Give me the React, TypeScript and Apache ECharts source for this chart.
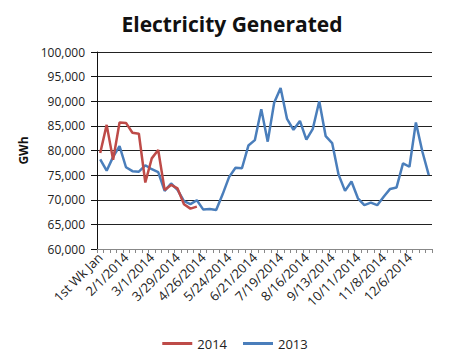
import React, { useEffect, useRef } from "react";
import * as echarts from "echarts";

const weeks: string[] = [
  "1st Wk Jan", "1/11/2014", "1/18/2014", "1/25/2014", "2/1/2014", "2/8/2014", "2/15/2014", "2/22/2014",
  "3/1/2014", "3/8/2014", "3/15/2014", "3/22/2014", "3/29/2014", "4/5/2014", "4/12/2014", "4/19/2014",
  "4/26/2014", "5/3/2014", "5/10/2014", "5/17/2014", "5/24/2014", "5/31/2014", "6/7/2014", "6/14/2014",
  "6/21/2014", "6/28/2014", "7/5/2014", "7/12/2014", "7/19/2014", "7/26/2014", "8/2/2014", "8/9/2014",
  "8/16/2014", "8/23/2014", "8/30/2014", "9/6/2014", "9/13/2014", "9/20/2014", "9/27/2014", "10/4/2014",
  "10/11/2014", "10/18/2014", "10/25/2014", "11/1/2014", "11/8/2014", "11/15/2014", "11/22/2014", "11/29/2014",
  "12/6/2014", "12/13/2014", "12/20/2014", "12/27/2014",
];

const gen2014: number[] = [
  79500, 85200, 78100, 85700, 85600, 83600, 83400, 73500, 78400, 80100, 72000, 73000, 72300, 69100, 68200, 68600,
];

const gen2013: number[] = [
  78200, 75900, 78700, 80900, 76600, 75800, 75700, 77000, 76200, 75600, 71800, 73300, 72000, 69700, 69100, 69900,
  68000, 68100, 67900, 71100, 74600, 76500, 76400, 81000, 82100, 88400, 81800, 89700, 92700, 86400, 84200, 86000,
  82200, 84400, 90000, 82900, 81500, 75100, 71800, 73700, 70300, 68900, 69400, 68900, 70600, 72200, 72500, 77400,
  76700, 85700, 79800, 75000,
];

const yMin = 60000;
const yMax = 100000;
const yStep = 5000;

export default function App() {
  const ref = useRef<HTMLDivElement>(null);
  useEffect(() => {
    if (!ref.current) return;
    const chart = echarts.init(ref.current, null, { renderer: "svg" });
    const font = "Open Sans";
    chart.setOption({
      animation: false,
      backgroundColor: "#ffffff",
      title: {
        text: "Electricity Generated",
        left: 227,
        textAlign: "center",
        top: 8,
        textStyle: { fontFamily: font, fontWeight: "bold", fontSize: 21, color: "#111" },
      },
      legend: {
        bottom: 6,
        left: "center",
        itemWidth: 30,
        itemHeight: 3,
        itemGap: 16,
        icon: "rect",
        textStyle: { fontFamily: font, fontSize: 13, color: "#222" },
        data: ["2014", "2013"],
      },
      grid: { left: 97, right: 38, top: 52, bottom: 112 },
      xAxis: {
        type: "category",
        data: weeks,
        boundaryGap: true,
        axisLine: { lineStyle: { color: "#888", width: 1 } },
        axisTick: { show: true, interval: 0, length: 4, lineStyle: { color: "#888" } },
        axisLabel: {
          interval: 3,
          rotate: 45,
          margin: 6,
          fontFamily: font,
          fontSize: 13,
          color: "#222",
        },
        splitLine: { show: false },
      },
      yAxis: {
        type: "value",
        min: yMin,
        max: yMax,
        interval: yStep,
        name: "GWh",
        nameLocation: "middle",
        nameRotate: 90,
        nameGap: 68,
        nameTextStyle: { fontFamily: font, fontWeight: "bold", fontSize: 12, color: "#111" },
        axisLine: { show: true, lineStyle: { color: "#111", width: 1 } },
        axisTick: { show: true, length: 6, lineStyle: { color: "#111" } },
        axisLabel: {
          margin: 12,
          fontFamily: font,
          fontSize: 12,
          color: "#222",
          formatter: (v: number) => v.toLocaleString("en-US"),
        },
        splitLine: { show: true, lineStyle: { color: "#222", width: 1 } },
      },
      series: [
        {
          name: "2014",
          type: "line",
          data: gen2014,
          showSymbol: false,
          symbol: "none",
          lineStyle: { color: "#BE4B48", width: 2.5 },
          itemStyle: { color: "#BE4B48" },
          z: 3,
        },
        {
          name: "2013",
          type: "line",
          data: gen2013,
          showSymbol: false,
          symbol: "none",
          lineStyle: { color: "#4A7EBB", width: 2.5 },
          itemStyle: { color: "#4A7EBB" },
          z: 2,
        },
      ],
    });
    return () => chart.dispose();
  }, []);
  return <div ref={ref} style={{ width: 470, height: 361, position: "absolute", left: 0, top: 0 }} />;
}
